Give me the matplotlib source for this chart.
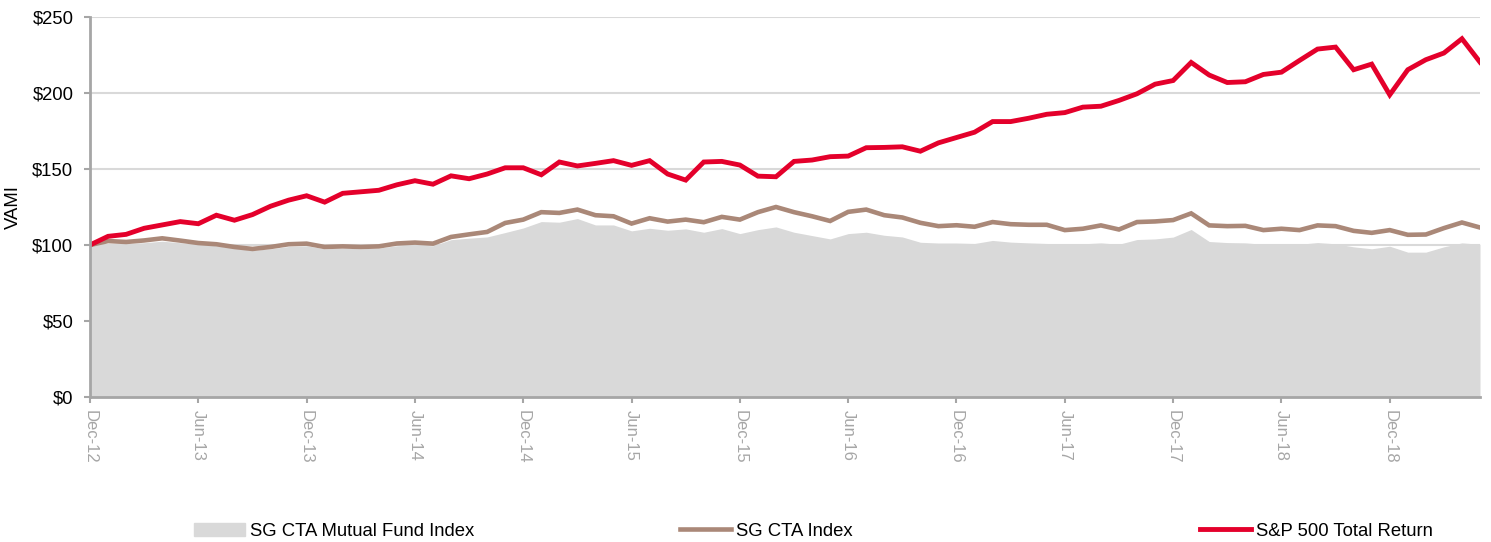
import numpy as np
import matplotlib
matplotlib.use("Agg")
import matplotlib.pyplot as plt
from matplotlib.patches import Patch
from matplotlib.lines import Line2D

plt.rcParams['font.family'] = ['Liberation Sans', 'DejaVu Sans']

# monthly VAMI, Dec-12 .. May-19
sp500 = [100, 105.7, 107, 111, 113.2, 115.4, 114, 119.6, 116.3, 120, 125.5, 129.5,
         132.4, 128.2, 134, 135, 136, 139.6, 142.3, 140, 145.5, 143.6, 146.7, 150.8,
         150.8, 146.2, 154.6, 152, 153.7, 155.5, 152.4, 155.5, 146.7, 142.7, 154.6, 155,
         152.6, 145.3, 144.9, 155, 155.9, 158.1, 158.5, 164, 164.2, 164.6, 161.7, 167.2,
         170.7, 174.2, 181.2, 181.2, 183.4, 186, 187.1, 190.7, 191.3, 195.1, 199.5, 205.8,
         208.2, 220.1, 211.8, 206.9, 207.4, 212.2, 213.7, 221.4, 228.9, 230.2, 215.3, 219,
         198.8, 215.3, 221.9, 226.3, 235.7, 220.3]

sg_cta = [100, 102.6, 102, 103, 104.4, 102.9, 101.3, 100.5, 98.7, 97.4, 98.7, 100.5,
          100.9, 98.7, 99.1, 98.7, 99.1, 101, 101.6, 100.9, 105.3, 107, 108.6, 114.5,
          116.7, 121.6, 121.1, 123.3, 119.6, 118.9, 114.1, 117.6, 115.4, 116.7, 115, 118.5,
          116.7, 121.6, 125, 121.6, 118.9, 115.8, 121.8, 123.3, 119.6, 118.1, 114.6, 112.4,
          113, 112, 115.1, 113.7, 113.3, 113.3, 109.8, 110.7, 112.9, 110.2, 115.1, 115.5,
          116.4, 120.8, 112.9, 112.4, 112.6, 109.8, 110.7, 109.8, 112.9, 112.4, 109.3, 108,
          109.8, 106.7, 106.9, 111.1, 114.8, 111.5]

sg_mutual = [100, 101, 101, 101.5, 102.5, 101.5, 100.5, 99.5, 98, 96.5, 97.5, 99,
             99.5, 97.5, 98, 97.5, 98, 99.5, 100, 99.5, 103.5, 104.5, 105.3, 108.2,
             111.2, 115.4, 115, 117.4, 113.2, 113.2, 109.3, 111, 109.7, 110.6, 108.4, 110.8,
             107.5, 110.1, 111.9, 108.4, 106.2, 104, 107.5, 108.4, 106.4, 105.3, 101.8, 101.3,
             101.3, 101, 103, 101.9, 101.4, 101, 100.5, 100.8, 101.4, 100.5, 103.6, 104,
             105.2, 110.2, 102.3, 101.6, 101.4, 100.5, 100.5, 100.5, 101.6, 100.8, 98.8, 97.5,
             99.2, 95.3, 95.3, 98.8, 101.4, 100.5]

tick_labels = ['Dec-12', 'Jun-13', 'Dec-13', 'Jun-14', 'Dec-14', 'Jun-15', 'Dec-15',
               'Jun-16', 'Dec-16', 'Jun-17', 'Dec-17', 'Jun-18', 'Dec-18']

x = np.arange(len(sp500))
fs = 13.3

fig = plt.figure(figsize=(14.91, 5.42), dpi=100)
ax = fig.add_axes([90/1491, 1-397/542, 1390/1491, 380/542])

ax.fill_between(x, 0, sg_mutual, color='#d9d9d9', lw=0, zorder=2)
ax.plot(x, sg_cta, color='#aa8878', lw=3.3, zorder=3, solid_joinstyle='miter')
ax.plot(x, sp500, color='#e4002b', lw=3.5, zorder=4, solid_joinstyle='miter')

ax.set_xlim(0, len(x)-1)
ax.set_ylim(0, 250)
ax.set_yticks(range(0, 251, 50))
ax.set_yticklabels(['$%d' % v for v in range(0, 251, 50)], fontsize=fs)
ax.set_xticks(np.arange(0, len(x), 6))
ax.set_xticklabels(tick_labels, rotation=270, fontsize=12, color='#a6a6a6')
ax.grid(axis='y', color='#d9d9d9', lw=1.5, zorder=0)
ax.set_axisbelow(True)
for s in ['top', 'right']:
    ax.spines[s].set_visible(False)
for s in ['left', 'bottom']:
    ax.spines[s].set_color('#a6a6a6')
    ax.spines[s].set_linewidth(2)
    ax.spines[s].set_zorder(5)
ax.tick_params(axis='both', colors='#a6a6a6', length=4, width=1.5)
ax.tick_params(axis='y', labelcolor='black', pad=8)
ax.tick_params(axis='x', labelcolor='#a6a6a6', pad=5)
ax.set_ylabel('VAMI', fontsize=fs)
ax.yaxis.set_label_coords(-68/1390, 0.5)

handles = [Patch(color='#d9d9d9'),
           Line2D([], [], color='#aa8878', lw=3.3),
           Line2D([], [], color='#e4002b', lw=3.5)]
names = ['SG CTA Mutual Fund Index', 'SG CTA Index', 'S&P 500 Total Return']
starts = [194, 680, 1200]
for h, n, s in zip(handles, names, starts):
    fig.legend([h], [n], loc='center left', bbox_to_anchor=(s/1491, 1-531/542),
               frameon=False, fontsize=fs, handlelength=2.75, handletextpad=0.28,
               borderpad=0, borderaxespad=0)

fig.savefig('out.png', dpi=100)
